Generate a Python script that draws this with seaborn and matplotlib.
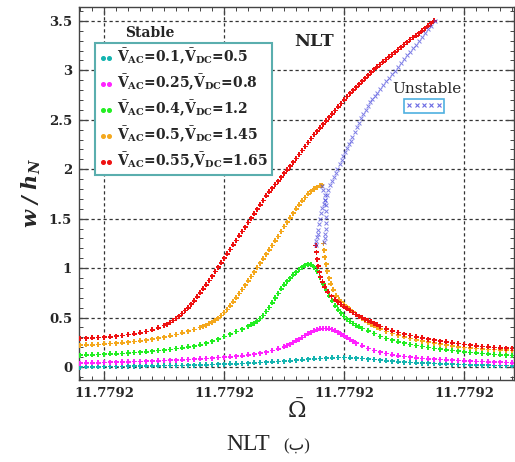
import matplotlib
matplotlib.use("Agg")
import matplotlib.pyplot as plt
import pandas as pd
import seaborn as sns
from matplotlib.lines import Line2D
from matplotlib.ticker import FixedLocator, MultipleLocator, FormatStrFormatter

# Frequency axis: detuning lists are in units of 1e-6 around the centre value
OMEGA_CENTER = 11.7792
DETUNING_UNIT = 1e-6

# ---- V_AC = 0.1, V_DC = 0.5 ----
det_ac010 = [-34, -33, -32, -31, -30, -29, -28, -27, -26, -25, -24, -23, -22, -21, -20, -19, -18,
             -17, -16, -15, -14, -13, -12, -11, -10, -9, -8, -7, -6, -5, -4, -3, -2, -1,
             0, 1, 2, 3, 4, 5, 6, 7, 8, 9, 10, 11, 12, 13, 14, 15, 16, 17, 18, 19, 20,
             21, 22, 23, 24, 25, 26, 27, 28, 29, 30, 31, 32, 33, 34, 35, 36, 37, 38]
amp_ac010 = [0.000, 0.001, 0.002, 0.003, 0.004, 0.005, 0.006, 0.007, 0.008, 0.009, 0.010, 0.011,
             0.012, 0.013, 0.014, 0.015, 0.016, 0.017, 0.019, 0.020, 0.022, 0.024, 0.026, 0.028,
             0.030, 0.032, 0.034, 0.036, 0.039, 0.042, 0.045, 0.048, 0.052, 0.056,
             0.060, 0.064, 0.069, 0.074, 0.079, 0.083, 0.087, 0.090, 0.093, 0.095, 0.095, 0.094,
             0.091, 0.087, 0.081, 0.075, 0.069, 0.063, 0.058, 0.053, 0.049,
             0.046, 0.043, 0.040, 0.038, 0.035, 0.033, 0.031, 0.029, 0.027, 0.025, 0.023, 0.022,
             0.020, 0.019, 0.017, 0.016, 0.015, 0.013]

# ---- V_AC = 0.25, V_DC = 0.8 ----
det_ac025 = [-34, -33, -32, -31, -30, -29, -28, -27, -26, -25, -24, -23, -22, -21, -20, -19, -18,
             -17, -16, -15, -14, -13, -12, -11, -10, -9, -8, -7, -6, -5, -4, -3, -2, -1,
             0, 0.5, 1, 1.5, 2, 2.5, 3, 3.5, 4, 4.5, 5, 5.5, 6, 6.5, 7, 7.5, 8, 8.5, 9, 9.5,
             10, 10.5, 11, 11.5, 12, 13, 14, 15, 16, 17, 18, 19, 20,
             21, 22, 23, 24, 25, 26, 27, 28, 29, 30, 31, 32, 33, 34, 35, 36, 37, 38]
amp_ac025 = [0.040, 0.041, 0.043, 0.044, 0.046, 0.048, 0.049, 0.051, 0.053, 0.055, 0.057, 0.059,
             0.061, 0.063, 0.065, 0.068, 0.071, 0.074, 0.077, 0.080, 0.084, 0.087, 0.091, 0.095,
             0.099, 0.104, 0.109, 0.115, 0.122, 0.130, 0.140, 0.152, 0.166, 0.183,
             0.205, 0.218, 0.232, 0.248, 0.265, 0.282, 0.300, 0.318, 0.335, 0.351, 0.365, 0.377,
             0.385, 0.389, 0.390, 0.386, 0.378, 0.366, 0.352, 0.334,
             0.315, 0.296, 0.277, 0.260, 0.243, 0.213, 0.188, 0.167, 0.150, 0.136, 0.124, 0.114,
             0.106, 0.099, 0.093, 0.088, 0.083, 0.079, 0.075, 0.072, 0.069, 0.066, 0.063, 0.060,
             0.057, 0.055, 0.052, 0.050, 0.048, 0.046, 0.044]

# ---- V_AC = 0.4, V_DC = 1.2 ----
det_ac040 = [-34, -33, -32, -31, -30, -29, -28, -27, -26, -25, -24, -23, -22, -21, -20, -19, -18,
             -17, -16, -15, -14, -13, -12, -11, -10, -9, -8, -7, -6, -5.5, -5, -4.5, -4, -3.5,
             -3, -2.5, -2, -1.5, -1, -0.5, 0, 0.5, 1, 1.5, 2, 2.5, 3, 3.5, 4, 4.5, 5, 5.5, 6,
             6.5, 7, 7.5, 8, 8.5, 9, 9.5, 10, 10.5, 11, 11.5, 12, 12.5, 13,
             14, 15, 16, 17, 18, 19, 20, 21, 22, 23, 24, 25, 26, 27, 28, 29, 30, 31, 32, 33,
             34, 35, 36, 37, 38]
amp_ac040 = [0.120, 0.122, 0.124, 0.126, 0.129, 0.132, 0.135, 0.138, 0.142, 0.146, 0.150, 0.155,
             0.160, 0.166, 0.172, 0.179, 0.187, 0.195, 0.203, 0.212, 0.226, 0.242, 0.260, 0.283,
             0.308, 0.333, 0.358, 0.384, 0.412, 0.427, 0.445, 0.465, 0.490, 0.522,
             0.560, 0.603, 0.650, 0.698, 0.745, 0.790, 0.830, 0.867, 0.900, 0.932, 0.960, 0.985,
             1.010, 1.030, 1.040, 1.035, 1.010, 0.970, 0.910, 0.840, 0.780, 0.720, 0.670, 0.620,
             0.580, 0.543, 0.510, 0.483, 0.460, 0.440, 0.420, 0.405, 0.390,
             0.365, 0.340, 0.310, 0.290, 0.272, 0.255, 0.240, 0.228, 0.217, 0.207, 0.198, 0.189,
             0.181, 0.174, 0.167, 0.160, 0.154, 0.148, 0.143, 0.138, 0.133, 0.128, 0.124, 0.120,
             0.116]

# ---- V_AC = 0.5, V_DC = 1.45 (upper and lower stable branches) ----
det_ac050_up = [-34, -33, -32, -31, -30, -29, -28, -27, -26, -25, -24, -23, -22, -21, -20, -19,
                -18, -17, -16, -15, -14, -13.5, -13, -12.5, -12, -11.5, -11, -10.5, -10, -9.5,
                -9, -8.5, -8, -7.5, -7, -6.5, -6, -5.5, -5, -4.5, -4, -3.5, -3, -2.5, -2, -1.5,
                -1, -0.5, 0, 0.5, 1, 1.5, 2, 2.5, 3, 3.5, 4, 4.5, 5, 5.5, 6, 6.3]
amp_ac050_up = [0.220, 0.223, 0.226, 0.229, 0.233, 0.237, 0.241, 0.246, 0.251, 0.257, 0.264,
                0.272, 0.281, 0.291, 0.302, 0.315, 0.329, 0.345, 0.362, 0.380, 0.400, 0.412,
                0.425, 0.440, 0.455, 0.474, 0.495, 0.520, 0.550, 0.583, 0.620, 0.660, 0.700,
                0.742, 0.785, 0.827, 0.870, 0.915, 0.960, 1.005, 1.050, 1.095, 1.140, 1.185,
                1.230, 1.275, 1.320, 1.370, 1.420, 1.465, 1.510, 1.555, 1.600, 1.640, 1.680,
                1.715, 1.750, 1.778, 1.800, 1.820, 1.835, 1.840]
det_ac050_low = [6.6, 6.7, 6.8, 7.0, 7.2, 7.5, 7.8, 8.2, 8.7, 9.2, 9.6, 10, 10.5, 11, 11.5, 12,
                 12.5, 13, 13.5, 14, 14.5, 15, 15.5, 16, 17, 18, 19, 20, 21, 22, 23, 24, 25, 26,
                 27, 28, 29, 30, 31, 32, 33, 34, 35, 36, 37, 38]
amp_ac050_low = [1.250, 1.180, 1.110, 1.040, 0.970, 0.900, 0.840, 0.780, 0.720, 0.680, 0.655,
                 0.630, 0.605, 0.580, 0.555, 0.530, 0.510, 0.490, 0.470, 0.450, 0.432, 0.415,
                 0.400, 0.385, 0.360, 0.340, 0.322, 0.305, 0.290, 0.275, 0.262, 0.250, 0.240,
                 0.231, 0.222, 0.214, 0.206, 0.199, 0.193, 0.188, 0.183, 0.179, 0.176, 0.173,
                 0.170, 0.167]

# ---- V_AC = 0.55, V_DC = 1.65 (upper and lower stable branches) ----
det_ac055_up = [-34, -33, -32, -31, -30, -29, -28, -27, -26, -25, -24, -23, -22, -21,
                -20, -19.5, -19, -18.5, -18, -17.5, -17, -16.5, -16, -15.5, -15, -14.5, -14,
                -13.5, -13, -12.5, -12, -11.5, -11, -10.5, -10, -9.5, -9, -8.5, -8, -7.5, -7,
                -6.5, -6, -5.5, -5, -4.5, -4, -3.5, -3, -2.5, -2, -1.5, -1, -0.5, 0, 0.5, 1,
                1.5, 2, 2.5, 3, 3.5, 4, 4.5, 5, 5.5, 6, 6.5, 7, 7.5, 8, 8.5, 9, 9.5, 10, 10.5,
                11, 11.5, 12, 12.5, 13, 13.5, 14, 14.5, 15, 15.5, 16, 16.5, 17, 17.5, 18, 18.5,
                19, 19.5, 20, 20.5, 21, 21.5, 22, 22.5, 23, 23.5, 24, 24.5, 25]
amp_ac055_up = [0.288, 0.291, 0.294, 0.298, 0.302, 0.307, 0.313, 0.320, 0.328, 0.337, 0.347,
                0.360, 0.375, 0.395,
                0.420, 0.435, 0.450, 0.470, 0.490, 0.515, 0.540, 0.570, 0.600, 0.635, 0.670,
                0.710, 0.750, 0.790, 0.830, 0.875, 0.920, 0.965, 1.010, 1.055, 1.100, 1.145,
                1.190, 1.235, 1.280, 1.325, 1.370, 1.415, 1.460, 1.505, 1.550, 1.595, 1.640,
                1.685, 1.730, 1.770, 1.810, 1.845, 1.880, 1.920, 1.960, 1.995, 2.030, 2.070,
                2.110, 2.150, 2.190, 2.230, 2.270, 2.310, 2.350, 2.385, 2.420, 2.455, 2.490,
                2.525, 2.560, 2.595, 2.630, 2.665, 2.700, 2.735, 2.770, 2.800, 2.830, 2.860,
                2.890, 2.920, 2.950, 2.980, 3.010, 3.035, 3.060, 3.085, 3.110, 3.135, 3.160,
                3.185, 3.210, 3.235, 3.260, 3.285, 3.310, 3.330, 3.350, 3.375, 3.400, 3.425,
                3.450, 3.475, 3.500]
det_ac055_low = [5.3, 5.4, 5.5, 5.7, 5.9, 6.1, 6.4, 6.8, 7.3, 7.9, 8.5, 9, 9.5, 10, 10.5, 11,
                 11.5, 12, 12.5, 13, 13.5, 14, 14.5, 15, 15.5, 16, 17, 18, 19, 20, 21, 22, 23,
                 24, 25, 26, 27, 28, 29, 30, 31, 32, 33, 34, 35, 36, 37, 38]
amp_ac055_low = [1.230, 1.160, 1.090, 1.020, 0.960, 0.910, 0.860, 0.810, 0.760, 0.715, 0.680,
                 0.655, 0.632, 0.610, 0.590, 0.570, 0.550, 0.532, 0.515, 0.500, 0.485, 0.470,
                 0.457, 0.445, 0.428, 0.410, 0.385, 0.365, 0.348, 0.333, 0.319, 0.306, 0.294,
                 0.283, 0.273, 0.263, 0.254, 0.245, 0.237, 0.229, 0.221, 0.214, 0.208, 0.203,
                 0.198, 0.194, 0.190, 0.187]

# ---- unstable branches ----
det_unst_ac050 = [6.3, 6.55, 6.75, 6.9, 7.0, 7.05, 7.05, 7.0, 6.95, 6.85, 6.75, 6.6]
amp_unst_ac050 = [1.83, 1.79, 1.74, 1.69, 1.64, 1.58, 1.52, 1.46, 1.40, 1.35, 1.30, 1.26]
det_unst_ac055 = [5.3, 5.4, 5.5, 5.6, 5.7, 5.85, 6.0, 6.2, 6.4, 6.6, 6.8, 7.1, 7.4, 7.7, 8.0,
                  8.3, 8.6, 8.9, 9.3, 9.6, 9.9, 10.2, 10.5, 10.8, 11.1, 11.4, 11.8, 12.2, 12.5,
                  12.9, 13.2, 13.6, 14.0, 14.4, 14.7, 15.1, 15.5, 16.0, 16.5, 17.0, 17.5, 18.0,
                  18.5, 19.0, 19.5, 20.0, 20.5, 21.0, 21.5, 22.0, 22.5, 23.0, 23.5, 24.0, 24.5,
                  25.2]
amp_unst_ac055 = [1.23, 1.27, 1.31, 1.35, 1.39, 1.45, 1.50, 1.56, 1.61, 1.65, 1.69, 1.74, 1.79,
                  1.84, 1.88, 1.92, 1.96, 2.00, 2.05, 2.09, 2.13, 2.17, 2.21, 2.25, 2.29, 2.33,
                  2.38, 2.43, 2.47, 2.52, 2.56, 2.60, 2.64, 2.68, 2.71, 2.74, 2.77, 2.81, 2.85,
                  2.89, 2.92, 2.96, 2.99, 3.03, 3.07, 3.11, 3.15, 3.19, 3.23, 3.26, 3.30, 3.34,
                  3.38, 3.42, 3.45, 3.50]

case_keys = ["ac010", "ac025", "ac040", "ac050", "ac055"]
case_labels = [
    r"$\mathbf{\bar{V}_{AC}}$=0.1,$\mathbf{\bar{V}_{DC}}$=0.5",
    r"$\mathbf{\bar{V}_{AC}}$=0.25,$\mathbf{\bar{V}_{DC}}$=0.8",
    r"$\mathbf{\bar{V}_{AC}}$=0.4,$\mathbf{\bar{V}_{DC}}$=1.2",
    r"$\mathbf{\bar{V}_{AC}}$=0.5,$\mathbf{\bar{V}_{DC}}$=1.45",
    r"$\mathbf{\bar{V}_{AC}}$=0.55,$\mathbf{\bar{V}_{DC}}$=1.65",
]
case_colors = ["#14b4b0", "#ff22ff", "#22ee22", "#f4a81d", "#ee1111"]
unstable_color = "#4646dc"

x_ticks_det = [-30, -10, 10, 30]
y_ticks = [0, 0.5, 1, 1.5, 2, 2.5, 3, 3.5]
y_tick_labels = ["0", "0.5", "1", "1.5", "2", "2.5", "3", "3.5"]


def to_omega(det):
    return [OMEGA_CENTER + d * DETUNING_UNIT for d in det]


stable_parts = [
    ("ac010", det_ac010, amp_ac010),
    ("ac025", det_ac025, amp_ac025),
    ("ac040", det_ac040, amp_ac040),
    ("ac050", det_ac050_up, amp_ac050_up),
    ("ac050", det_ac050_low, amp_ac050_low),
    ("ac055", det_ac055_up, amp_ac055_up),
    ("ac055", det_ac055_low, amp_ac055_low),
]
stable_df = pd.concat(
    [pd.DataFrame({"omega": to_omega(d), "w": a, "case": k}) for k, d, a in stable_parts],
    ignore_index=True,
)
unstable_df = pd.concat(
    [pd.DataFrame({"omega": to_omega(d), "w": a})
     for d, a in [(det_unst_ac050, amp_unst_ac050), (det_unst_ac055, amp_unst_ac055)]],
    ignore_index=True,
)

sns.set_theme(style="ticks")
plt.rcParams.update({
    "font.family": ["DejaVu Serif"],
    "mathtext.fontset": "dejavuserif",
    "axes.edgecolor": "#444444",
    "axes.linewidth": 1.0,
})

fig = plt.figure(figsize=(5.15, 4.62), dpi=100)
W, H = 515, 462
ax = fig.add_axes([79 / W, 1 - 380 / H, (514 - 79) / W, (380 - 7) / H])

sns.scatterplot(data=stable_df, x="omega", y="w", hue="case", hue_order=case_keys,
                palette=dict(zip(case_keys, case_colors)), marker="P", s=13, linewidth=0,
                legend=False, ax=ax, zorder=3)
sns.scatterplot(data=unstable_df, x="omega", y="w", marker="x", color=unstable_color,
                s=8, linewidth=0.7, alpha=0.7, legend=False, ax=ax, zorder=4)

ax.set_xlim(to_omega([-34.17, 38.33]))
ax.set_ylim(-0.131, 3.64)
ax.xaxis.set_major_locator(FixedLocator(to_omega(x_ticks_det)))
ax.xaxis.set_major_formatter(FormatStrFormatter("%.4f"))
ax.xaxis.set_minor_locator(MultipleLocator(2 * DETUNING_UNIT))
ax.yaxis.set_major_locator(FixedLocator(y_ticks))
ax.set_yticklabels(y_tick_labels)
ax.yaxis.set_minor_locator(MultipleLocator(0.1))
ax.tick_params(which="both", direction="in", top=True, right=True, color="#444444")
ax.tick_params(which="major", length=6, width=0.9, pad=5, labelsize=9.5)
ax.tick_params(which="minor", length=3, width=0.7)
for lab in ax.get_xticklabels() + ax.get_yticklabels():
    lab.set_fontweight("bold")
ax.grid(True, which="major", color="#333333", linestyle=(0, (2.6, 2.2)), linewidth=0.9)
ax.set_axisbelow(True)

ax.set_xlabel(r"$\bar{\Omega}$", fontsize=16, fontfamily="DejaVu Serif")
ax.xaxis.set_label_coords(0.5, -0.052)
ax.set_ylabel(r"$\mathbfit{w\ /\ h_N}$", fontsize=15)
ax.yaxis.set_label_coords(-0.083, 0.5)

# stable-branch legend
handles = [Line2D([], [], marker="o", ls="none", ms=2.6, color=c) for c in case_colors]
leg = ax.legend(handles, case_labels, loc="upper left", bbox_to_anchor=(95 / W, 1 - 43 / H),
                bbox_transform=fig.transFigure, borderaxespad=0, numpoints=2,
                handlelength=1.0, handletextpad=0.3, labelspacing=0.42, borderpad=0.3,
                prop={"size": 10, "weight": "bold", "family": "DejaVu Serif"},
                frameon=True, fancybox=False, framealpha=1, edgecolor="#5aaeae")
leg.get_frame().set_linewidth(1.5)
ax.add_artist(leg)
fig.text(150 / W, 1 - 33 / H, "Stable", ha="center", va="center", fontsize=10,
         fontweight="bold", family="DejaVu Serif")

# unstable-branch legend
uh = Line2D([], [], marker="x", ls="none", ms=3, mew=0.8, color=unstable_color, alpha=0.8)
leg2 = ax.legend([uh], [""], loc="center", bbox_to_anchor=(424 / W, 1 - 106 / H),
                 bbox_transform=fig.transFigure, borderaxespad=0, numpoints=5,
                 handlelength=3.6, handletextpad=0, borderpad=0.3, fontsize=7,
                 frameon=True, fancybox=False, framealpha=1, edgecolor="#4fb0e0")
leg2.get_frame().set_linewidth(1.2)
fig.text(427 / W, 1 - 89 / H, "Unstable", ha="center", va="center", fontsize=11,
         family="DejaVu Serif")

ax.text(314 / W, 1 - 41 / H, "NLT", transform=fig.transFigure, ha="center", va="center",
        fontsize=12.5, fontweight="bold", family="DejaVu Serif")

fig.text(248 / W, 1 - 444 / H, "NLT", ha="center", va="center", fontsize=17,
         family=["Liberation Serif", "DejaVu Sans"])
fig.text(297 / W, 1 - 446 / H, "(ب)", ha="center", va="center", fontsize=12,
         family=["Liberation Serif", "DejaVu Sans"])

fig.savefig("out.png", dpi=100)
